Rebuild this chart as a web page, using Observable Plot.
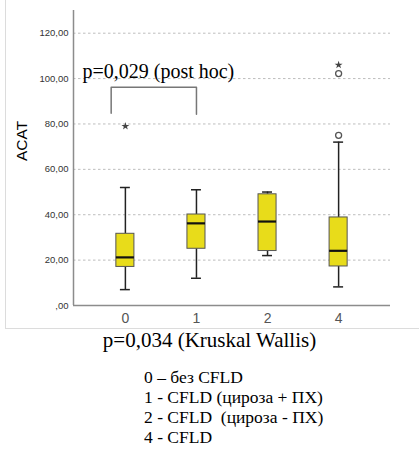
<!DOCTYPE html>
<html>
<head>
<meta charset="utf-8">
<script src="https://cdn.jsdelivr.net/npm/d3@7"></script>
<script src="https://cdn.jsdelivr.net/npm/@observablehq/plot@0.6"></script>
<style>
  body { margin: 0; background: #fff; }
  #wrap { position: relative; width: 419px; height: 450px; overflow: hidden; }
  #frame { position: absolute; left: 5px; top: -5px; width: 420px; height: 334px; box-sizing: border-box;
           border-left: 1px solid #dcdcdc; border-bottom: 1px solid #dcdcdc; pointer-events: none; }
  #kw { font-family: "Liberation Serif", "Times New Roman", serif; font-size: 21px; line-height: 21px;
        text-align: center; width: 419px; color: #000; }
  #legend { font-family: "Liberation Serif", "Times New Roman", serif; font-size: 17.5px; line-height: 20px;
            margin-top: 16px; padding-left: 144px; color: #000; white-space: pre; }
</style>
</head>
<body>
<div id="wrap">
  <div id="chart"></div>
  <div id="kw"></div>
  <div id="legend"></div>
  <div id="frame"></div>
</div>
<script>
// ---- data ----
const categories   = ["0", "1", "2", "4"];
const whiskerLow   = [7, 12, 22, 8.2];
const quartile1    = [17, 25, 24, 17.2];
const medians      = [21.2, 36.2, 37, 24.1];
const quartile3    = [31.6, 40.1, 49, 38.8];
const whiskerHigh  = [52, 51, 50, 72];
const outlierGroup = [3, 3];          // index into categories
const outlierValue = [75, 102.2];
const extremeGroup = [0, 3];
const extremeValue = [79, 106];
const yTicks       = [0, 20, 40, 60, 80, 100, 120];
const yLabel       = "ACAT";
const postHocText  = "p=0,029 (post hoc)";
const bracketX     = [-0.2, -0.2, 1, 1];
const bracketY     = [84.7, 96.2, 96.2, 84.3];
const kwText       = "p=0,034 (Kruskal Wallis)";
const legendLines  = ["0 – без CFLD", "1 - CFLD (цироза + ПХ)", "2 - CFLD  (цироза - ПХ)", "4 - CFLD"];

// ---- derived tables ----
const idx = categories.map((c, i) => i);
const boxes = idx.map(i => ({i, lo: whiskerLow[i], q1: quartile1[i], med: medians[i], q3: quartile3[i], hi: whiskerHigh[i]}));
const outliers = outlierGroup.map((g, k) => ({i: g, v: outlierValue[k]}));
const extremes = extremeGroup.map((g, k) => ({i: g, v: extremeValue[k]}));
const bracket = bracketX.map((x, k) => ({x, y: bracketY[k]}));

const xDomain = [-0.73, 3.73];
const BOX = 0.127, CAP = 0.07;
const serif = "Liberation Serif, Times New Roman, serif";

const chart = Plot.plot({
  width: 419,
  height: 330,
  marginLeft: 73,
  marginRight: 29,
  marginTop: 10,
  marginBottom: 25,
  style: {fontFamily: "Liberation Sans, Arial, sans-serif", background: "transparent"},
  x: {type: "linear", domain: xDomain, axis: null},
  y: {domain: [0, 130], axis: null},
  marks: [
    Plot.gridY(yTicks.filter(d => d > 0), {stroke: "#bdbdbd", strokeOpacity: 1, strokeDasharray: "2.5,2.5"}),
    Plot.ruleX([xDomain[0]], {stroke: "#8c8c8c", strokeWidth: 1.5}),
    Plot.ruleY([0], {stroke: "#8c8c8c", strokeWidth: 1.5}),
    // whiskers
    Plot.ruleX(boxes, {x: "i", y1: "lo", y2: "q1", stroke: "#222", strokeWidth: 1.5}),
    Plot.ruleX(boxes, {x: "i", y1: "q3", y2: "hi", stroke: "#222", strokeWidth: 1.5}),
    Plot.ruleY(boxes, {y: "lo", x1: d => d.i - CAP, x2: d => d.i + CAP, stroke: "#222", strokeWidth: 1.5}),
    Plot.ruleY(boxes, {y: "hi", x1: d => d.i - CAP, x2: d => d.i + CAP, stroke: "#222", strokeWidth: 1.5}),
    // boxes
    Plot.rect(boxes, {x1: d => d.i - BOX, x2: d => d.i + BOX, y1: "q1", y2: "q3", fill: "#e8dc1a", stroke: "#555", strokeWidth: 1}),
    Plot.ruleY(boxes, {y: "med", x1: d => d.i - BOX, x2: d => d.i + BOX, stroke: "#111", strokeWidth: 2.2}),
    // outliers
    Plot.dot(outliers, {x: "i", y: "v", r: 3, stroke: "#555", fill: "white", strokeWidth: 1.3}),
    Plot.dot(extremes, {x: "i", y: "v", symbol: "star", r: 2.5, fill: "#444", stroke: "none"}),
    // post hoc annotation
    Plot.line(bracket, {x: "x", y: "y", stroke: "#777", strokeWidth: 1.5}),
    Plot.text([postHocText], {x: () => -0.604, y: () => 100.1, text: d => d, textAnchor: "start", lineAnchor: "bottom",
      fontSize: 20, fontFamily: serif, fill: "#000"}),
    // axes
    Plot.axisY(yTicks, {tickSize: 0, tickPadding: 5, tickFormat: d => d === 0 ? ",00" : d + ",00",
      fontSize: 9.5, fill: "#333", label: null}),
    Plot.axisX(idx, {tickSize: 0, tickPadding: 8, tickFormat: i => categories[i], fontSize: 14, fill: "#555", label: null}),
    Plot.text([yLabel], {frameAnchor: "left", dx: -51, dy: 3, rotate: -90, text: d => d, fontSize: 15.5, fill: "#000"})
  ]
});
document.getElementById("chart").appendChild(chart);
document.getElementById("kw").textContent = kwText;
const leg = document.getElementById("legend");
legendLines.forEach(t => { const d = document.createElement("div"); d.textContent = t; leg.appendChild(d); });
</script>
</body>
</html>
